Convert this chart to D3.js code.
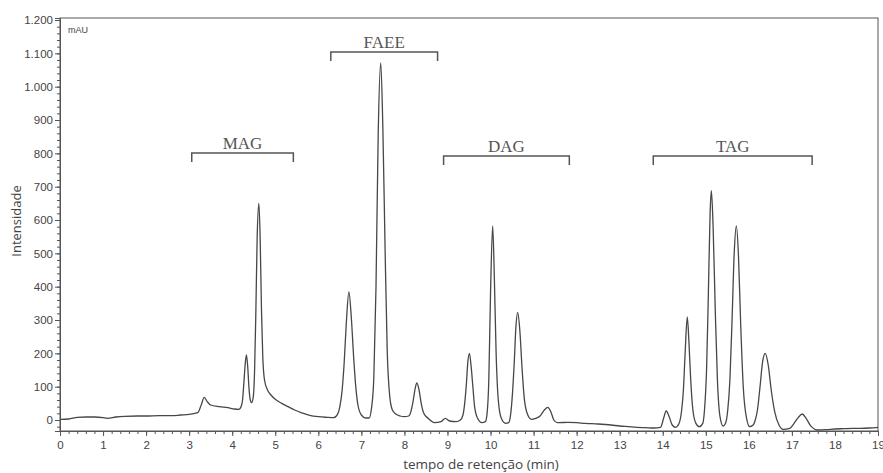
<!DOCTYPE html>
<html><head><meta charset="utf-8">
<script src="https://cdn.jsdelivr.net/npm/d3@7"></script>
<style>body{margin:0;background:#fff}svg{display:block}</style>
</head><body>
<svg id="c" width="883" height="473"></svg>
<script>
// retention time (min)
const times = [0,0.2,0.4,0.6,0.8,1.0,1.1,1.3,1.5,1.8,2.0,2.3,2.6,2.8,3.0,3.2,
3.28,3.35,3.42,3.5,3.7,3.9,4.05,4.15,
4.2,4.24,4.27,4.30,4.33,4.36,4.39,4.42,4.45,
4.49,4.52,4.55,4.58,4.62,4.65,4.68,4.71,4.75,4.82,4.9,5.0,5.15,5.3,5.45,5.6,5.8,6.0,6.2,6.35,
6.42,6.5,6.55,6.6,6.65,6.71,6.77,6.82,6.87,6.92,7.0,7.1,7.18,
7.24,7.29,7.34,7.39,7.45,7.5,7.55,7.6,7.66,7.72,7.8,7.9,8.0,8.1,
8.15,8.2,8.25,8.29,8.34,8.39,8.45,8.55,8.7,8.85,8.95,9.05,9.2,9.3,
9.36,9.4,9.44,9.47,9.51,9.55,9.59,9.63,9.7,9.8,9.88,
9.92,9.96,10.0,10.05,10.09,10.13,10.18,10.25,10.35,10.42,
10.47,10.51,10.55,10.59,10.63,10.68,10.73,10.78,10.85,10.95,11.05,
11.15,11.25,11.33,11.4,11.47,11.55,11.8,12.0,12.2,12.5,12.8,13.0,13.2,13.4,13.6,13.8,13.95,
14.02,14.08,14.15,14.22,14.3,14.38,
14.44,14.48,14.52,14.57,14.61,14.65,14.7,14.77,14.85,14.93,
14.97,15.02,15.06,15.1,15.13,15.17,15.22,15.27,15.33,15.4,15.47,
15.51,15.56,15.61,15.66,15.71,15.76,15.81,15.87,15.94,16.02,16.1,
16.15,16.2,16.26,16.32,16.38,16.45,16.52,16.6,16.7,16.8,16.95,
17.05,17.15,17.24,17.33,17.45,17.6,17.8,18.0,18.2,18.4,18.6,18.8,19.0];
// intensity (mAU)
const intensity = [2,3,8,9,9,7,5,9,11,12,12,13,13,15,17,22,
45,68,55,45,40,37,33,32,
38,60,110,165,195,160,95,60,52,
70,150,330,550,650,540,330,190,120,90,75,62,50,40,30,22,14,10,8,7,
12,40,85,170,290,384,300,190,100,45,15,6,6,
40,130,400,850,1071,870,520,210,70,30,18,12,10,12,
25,55,95,111,90,50,20,5,-8,-5,5,-3,-5,0,
15,50,110,170,200,160,100,40,5,-8,-5,
20,120,380,582,420,200,60,5,-10,-8,
20,80,170,280,323,270,160,70,20,2,5,
12,30,38,25,0,-8,-7,-8,-10,-12,-15,-18,-20,-22,-23,-24,-22,
5,27,10,-15,-22,-10,
30,90,200,309,230,120,30,-10,-20,-10,
30,160,380,620,688,580,330,120,10,-18,-5,
30,120,300,500,582,490,290,100,10,-20,-15,
0,30,100,175,200,165,90,25,-15,-28,-25,
-10,8,18,5,-20,-30,-29,-27,-26,-25,-25,-24,-22];

const xTicks = [0,1,2,3,4,5,6,7,8,9,10,11,12,13,14,15,16,17,18,19];
const yTicks = [0,100,200,300,400,500,600,700,800,900,1000,1100,1200];

const groupNames = ["MAG","FAEE","DAG","TAG"];
const groupStart = [3.06,6.29,8.91,13.78];
const groupEnd   = [5.42,8.77,11.83,17.47];
const groupLevel = [801,1104,792,792];

const svg = d3.select("#c");
const x = d3.scaleLinear().domain([0,19]).range([60,878]);
const y = d3.scaleLinear().domain([-33,1206]).range([431,18]);
const axisCol = "#555";
const loc = d3.formatLocale({decimal:",",thousands:".",grouping:[3],currency:["",""]});
const fmt = loc.format(",d");

// frame
svg.append("rect").attr("x",x(0)).attr("y",y(1206)).attr("width",x(19)-x(0)).attr("height",y(-33)-y(1206))
  .attr("fill","none").attr("stroke",axisCol).attr("stroke-width",1);

// x axis
const gx = svg.append("g").attr("transform",`translate(0,${y(-33)})`);
gx.call(d3.axisBottom(x).tickValues(d3.range(0,19.01,0.2)).tickSize(3).tickFormat(""))
  .call(g=>g.select(".domain").remove());
gx.append("g").call(d3.axisBottom(x).tickValues(xTicks).tickSize(5).tickPadding(5).tickFormat(d=>d))
  .call(g=>g.select(".domain").attr("stroke",axisCol));
gx.selectAll("line").attr("stroke",axisCol);
gx.selectAll("text").attr("fill","#444").attr("font-family","Liberation Sans, Arial, sans-serif").attr("font-size",11.5);

// y axis
const gy = svg.append("g").attr("transform",`translate(${x(0)},0)`);
gy.call(d3.axisLeft(y).tickValues(d3.range(-20,1201,20)).tickSize(3).tickFormat(""))
  .call(g=>g.select(".domain").remove());
gy.append("g").call(d3.axisLeft(y).tickValues(yTicks).tickSize(5).tickPadding(2).tickFormat(fmt))
  .call(g=>g.select(".domain").attr("stroke",axisCol));
gy.selectAll("line").attr("stroke",axisCol);
gy.selectAll("text").attr("fill","#444").attr("font-family","Liberation Sans, Arial, sans-serif").attr("font-size",11.5);

// curve
const pts = times.map((t,i)=>[t,intensity[i]]);
svg.append("path").datum(pts)
  .attr("d",d3.line().x(d=>x(d[0])).y(d=>y(d[1])).curve(d3.curveMonotoneX))
  .attr("fill","none").attr("stroke","#474747").attr("stroke-width",1.3).attr("stroke-linejoin","round");

// group brackets
groupNames.forEach((n,i)=>{
  const x0=x(groupStart[i]), x1=x(groupEnd[i]), yy=y(groupLevel[i]);
  svg.append("path").attr("d",`M${x0},${yy+9}V${yy}H${x1}V${yy+9}`)
    .attr("fill","none").attr("stroke","#555").attr("stroke-width",1.5);
  svg.append("text").attr("x",(x0+x1)/2).attr("y",yy-4).attr("text-anchor","middle")
    .attr("font-family","Liberation Serif, Times New Roman, serif").attr("font-size",17).attr("fill","#555").text(n);
});

// labels
svg.append("text").attr("x",68).attr("y",33).attr("font-family","Liberation Sans, Arial, sans-serif")
  .attr("font-size",9).attr("fill","#444").text("mAU");
svg.append("text").attr("transform","translate(21,221) rotate(-90)").attr("text-anchor","middle")
  .attr("font-family","Open Sans, sans-serif").attr("font-size",13).attr("fill","#444").text("Intensidade");
svg.append("text").attr("x",481).attr("y",469).attr("text-anchor","middle")
  .attr("font-family","Open Sans, sans-serif").attr("font-size",13.5).attr("fill","#444").text("tempo de retenção (min)");
</script>
</body></html>
